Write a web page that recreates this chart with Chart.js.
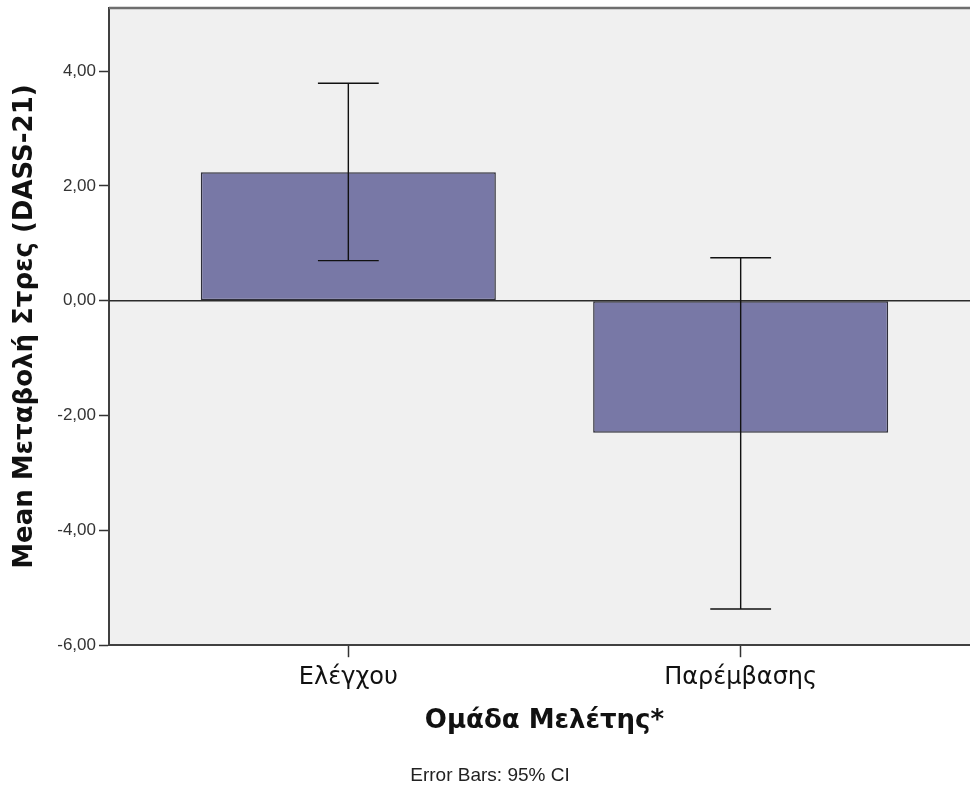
<!DOCTYPE html>
<html>
<head>
<meta charset="utf-8">
<title>Μεταβολή Στρες ανά Ομάδα</title>
<script src="https://cdn.jsdelivr.net/npm/chart.js@4.4.1/dist/chart.umd.min.js"></script>
<style>
  html, body { margin: 0; padding: 0; background: #ffffff; overflow: hidden; }
  #wrap { width: 980px; height: 790px; }
</style>
</head>
<body>
<div id="wrap"><canvas id="chart" width="980" height="790"></canvas></div>
<script>
// Study groups and mean change in stress (DASS-21) with 95% CI bounds
const groups = ['Ελέγχου', 'Παρέμβασης'];
const meanChange = [2.24, -2.30];
const ciLower = [0.70, -5.37];
const ciUpper = [3.79, 0.75];

// Value axis ticks and their printed labels
const yTickValues = [-6, -4, -2, 0, 2, 4];
const yTickLabels = ['-6,00', '-4,00', '-2,00', '0,00', '2,00', '4,00'];

const Y_MIN = -6;
const Y_MAX = 5.1;

// Grey panel behind the plot, plus the top frame line
const panelPlugin = {
  id: 'panel',
  beforeDraw(chart) {
    const { ctx, chartArea: a } = chart;
    ctx.save();
    ctx.fillStyle = '#f0f0f0';
    ctx.fillRect(a.left, a.top, a.right - a.left, a.bottom - a.top);
    ctx.restore();
  },
  afterDraw(chart) {
    const { ctx, chartArea: a } = chart;
    ctx.save();
    ctx.strokeStyle = '#6e6e6e';
    ctx.lineWidth = 2.5;
    ctx.beginPath();
    ctx.moveTo(a.left, a.top);
    ctx.lineTo(a.right, a.top);
    ctx.stroke();
    ctx.restore();
  }
};

// Zero reference line and 95% CI whiskers
const errorBarPlugin = {
  id: 'errorBars',
  afterDatasetsDraw(chart) {
    const { ctx, chartArea: a } = chart;
    const xs = chart.scales.x;
    const ys = chart.scales.y;
    ctx.save();
    // reference line at zero
    const y0 = ys.getPixelForValue(0);
    ctx.strokeStyle = '#2b2b2b';
    ctx.lineWidth = 1.3;
    ctx.beginPath();
    ctx.moveTo(a.left, y0);
    ctx.lineTo(a.right, y0);
    ctx.stroke();

    const spacing = xs.getPixelForValue(2) - xs.getPixelForValue(1);
    const cap = spacing * 0.0775;
    ctx.strokeStyle = '#111111';
    ctx.lineWidth = 1.4;
    groups.forEach((g, i) => {
      const x = xs.getPixelForValue(i + 1);
      const yl = ys.getPixelForValue(ciLower[i]);
      const yh = ys.getPixelForValue(ciUpper[i]);
      ctx.beginPath();
      ctx.moveTo(x, yl);
      ctx.lineTo(x, yh);
      ctx.moveTo(x - cap, yh);
      ctx.lineTo(x + cap, yh);
      ctx.moveTo(x - cap, yl);
      ctx.lineTo(x + cap, yl);
      ctx.stroke();
    });
    ctx.restore();
  }
};

new Chart(document.getElementById('chart'), {
  type: 'bar',
  data: {
    datasets: [{
      data: meanChange.map((v, i) => ({ x: i + 1, y: v })),
      backgroundColor: '#7878a6',
      borderColor: '#2e2e3a',
      borderWidth: 1.5,
      borderSkipped: false,
      barPercentage: 0.752,
      categoryPercentage: 1.0
    }]
  },
  options: {
    responsive: false,
    animation: false,
    devicePixelRatio: 1,
    layout: { padding: { top: 8, left: 0, right: 0, bottom: 0 } },
    plugins: {
      legend: { display: false },
      tooltip: { enabled: false },
      title: {
        display: true,
        position: 'bottom',
        text: 'Error Bars: 95% CI',
        color: '#222222',
        font: { family: 'Liberation Sans', size: 19, weight: 'normal' },
        padding: { top: 0, bottom: 3 }
      }
    },
    scales: {
      x: {
        type: 'linear',
        min: 0.39,
        max: 2.61,
        offset: false,
        afterBuildTicks(scale) {
          scale.ticks = groups.map((g, i) => ({ value: i + 1 }));
        },
        afterFit(scale) {
          scale.height = 119;
          scale.paddingLeft = 0;
          scale.paddingRight = 0;
        },
        ticks: {
          autoSkip: false,
          maxRotation: 0,
          padding: 6,
          color: '#111111',
          font: { family: 'DejaVu Sans', size: 24 },
          callback: (v) => groups[Math.round(v) - 1] ?? ''
        },
        grid: {
          display: true,
          drawOnChartArea: false,
          drawTicks: true,
          tickLength: 12,
          tickWidth: 1.5,
          tickColor: '#333333',
          offset: false
        },
        border: { display: true, color: '#404040', width: 2 },
        title: {
          display: true,
          text: 'Ομάδα Μελέτης*',
          color: '#111111',
          font: { family: 'DejaVu Sans', size: 26, weight: 'bold' },
          padding: { top: 0, bottom: 27 }
        }
      },
      y: {
        type: 'linear',
        min: Y_MIN,
        max: Y_MAX,
        afterBuildTicks(scale) {
          scale.ticks = yTickValues.map(v => ({ value: v }));
        },
        afterFit(scale) {
          scale.width = 109;
          scale.paddingTop = 0;
          scale.paddingBottom = 0;
        },
        ticks: {
          padding: 3,
          color: '#333333',
          font: { family: 'Liberation Sans', size: 17 },
          callback: (v) => {
            const k = yTickValues.indexOf(v);
            return k >= 0 ? yTickLabels[k] : '';
          }
        },
        grid: {
          display: true,
          drawOnChartArea: false,
          drawTicks: true,
          tickLength: 10,
          tickWidth: 1.5,
          tickColor: '#333333'
        },
        border: { display: true, color: '#404040', width: 2 },
        title: {
          display: true,
          text: 'Mean Μεταβολή Στρες (DASS-21)',
          color: '#111111',
          font: { family: 'DejaVu Sans', size: 26, weight: 'bold' },
          padding: { top: 10, bottom: 0 }
        }
      }
    }
  },
  plugins: [panelPlugin, errorBarPlugin]
});
</script>
</body>
</html>
